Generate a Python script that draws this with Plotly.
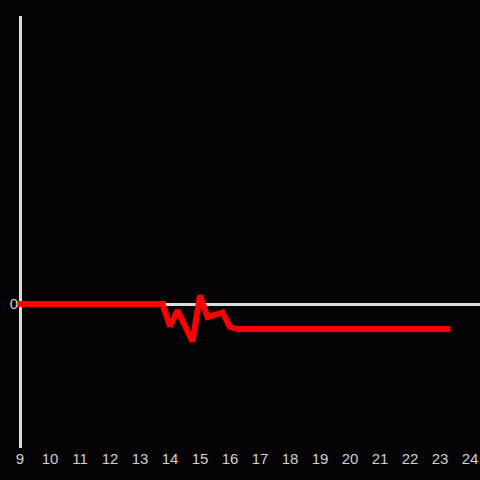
import plotly.graph_objects as go

hours = [9, 13.75, 14.0, 14.25, 14.75, 15.0, 15.25, 15.75, 16.0, 16.25, 23.25]
values = [0, 0, -0.155, -0.045, -0.26, 0.06, -0.09, -0.06, -0.16, -0.174, -0.174]
x_ticks = list(range(9, 25))
y_ticks = [0]

fig = go.Figure()
fig.add_trace(go.Scatter(
    x=hours, y=values, mode="lines",
    line=dict(color="#ff0000", width=6),
    hoverinfo="skip", cliponaxis=False,
))

fig.add_shape(
    type="line", xref="x", yref="paper", x0=x_ticks[0] + 0.5 / 30, x1=x_ticks[0] + 0.5 / 30,
    y0=0, y1=1, line=dict(color="#dddddd", width=3), layer="below",
)

fig.update_layout(
    width=480, height=480,
    margin=dict(l=17, r=0, t=16, b=32),
    paper_bgcolor="#050306", plot_bgcolor="#050306",
    showlegend=False,
    font=dict(family="Liberation Sans, Arial, sans-serif", size=15, color="#d0d0d0"),
    xaxis=dict(
        range=[9 - 3 / 30, 9 - 3 / 30 + 463 / 30], tickvals=x_ticks,
        ticktext=[str(t) for t in x_ticks],
        showgrid=False, zeroline=False, showline=False, ticks="",
    ),
    yaxis=dict(
        range=[-1, 2], tickvals=y_ticks, ticktext=["0"],
        showgrid=False, zeroline=True, zerolinecolor="#dddddd", zerolinewidth=3,
        showline=False, ticks="", ticklabelstandoff=-2,
    ),
)

post = (
    "document.body.style.margin='0';"
    "document.body.style.background='#050306';"
    "var s=document.createElement('style');"
    "s.textContent='.scatterlayer path.js-line{stroke-linecap:square;}';"
    "document.head.appendChild(s);"
)

fig.write_html("out.html", config={"displayModeBar": False}, post_script=post)
